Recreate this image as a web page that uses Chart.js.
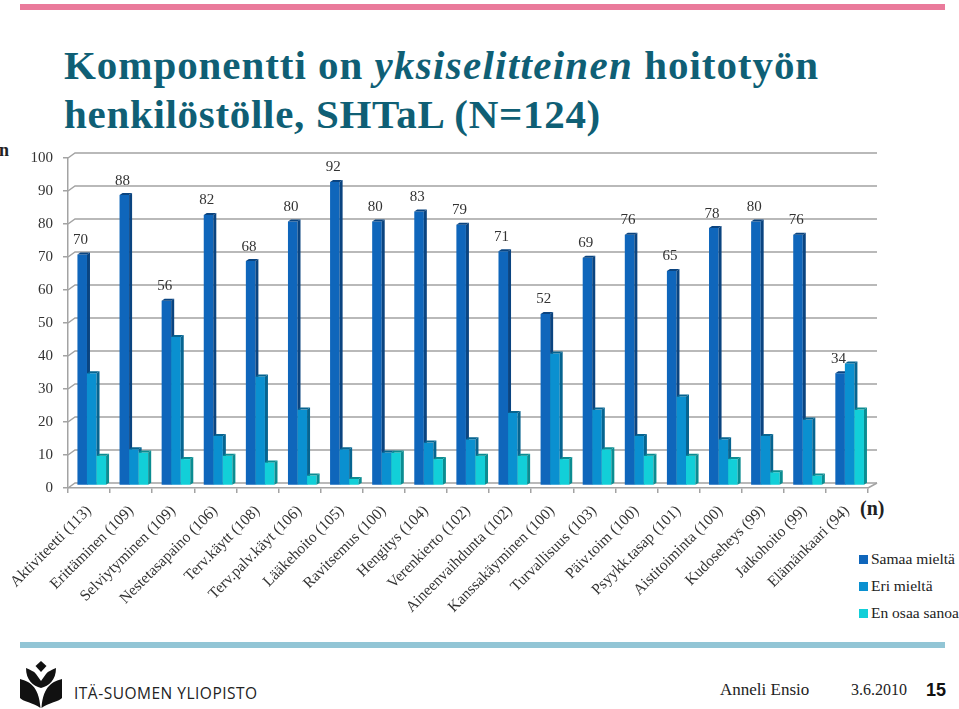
<!DOCTYPE html>
<html>
<head>
<meta charset="utf-8">
<script src="https://cdn.jsdelivr.net/npm/chart.js@4"></script>
<style>
  html, body { margin: 0; padding: 0; background: #fff; }
  body { width: 959px; height: 709px; position: relative; overflow: hidden; font-family: "Liberation Serif", serif; color: #222; }
  canvas { position: absolute; left: 0; top: 0; }
  .abs { position: absolute; white-space: nowrap; }
  #topBar { left: 20px; top: 4px; width: 925px; height: 6px; background: #ea7a9b; }
  #bottomBar { left: 20px; top: 642px; width: 925px; height: 6px; background: #92c5d5; }
  #title { left: 64px; top: 41px; font-size: 41px; line-height: 49px; font-weight: bold; letter-spacing: 0.95px; color: #0f5f75; }
  #title i { letter-spacing: 1.3px; }
  #title span { letter-spacing: 0.7px; }
  .key { width: 9px; height: 9px; }
  .keyText { font-size: 15.5px; }
</style>
</head>
<body>
<div class="abs" id="topBar"></div>
<div class="abs" id="bottomBar"></div>
<div class="abs" id="title">Komponentti on <i>yksiselitteinen</i> hoitotyön<br><span>henkilöstölle, SHTaL (N=124)</span></div>
<div class="abs" style="left:-1px;top:140px;font-size:18px;font-weight:bold">n</div>
<div class="abs" style="left:860px;top:497px;font-size:20px;font-weight:bold">(n)</div>

<div class="abs key" style="left:859px;top:555px;background:#0f66bb"></div>
<div class="abs keyText" style="left:871px;top:550px">Samaa mieltä</div>
<div class="abs key" style="left:859px;top:582px;background:#0a90d0"></div>
<div class="abs keyText" style="left:871px;top:577px">Eri mieltä</div>
<div class="abs key" style="left:859px;top:609px;background:#12cfd8"></div>
<div class="abs keyText" style="left:871px;top:604px">En osaa sanoa</div>

<svg class="abs" style="left:20px;top:660px" width="44" height="49" viewBox="0 0 44 49">
  <path d="M21 1 L26.5 6 L21 12 L15.5 6 Z" fill="#111"/>
  <path d="M6 8 C10 10 14 11 16 14 L21 21 L21 28 C13 26 6 20 6 8 Z" fill="#111"/>
  <path d="M36 8 C32 10 28 11 26 14 L21 21 L21 28 C29 26 36 20 36 8 Z" fill="#111"/>
  <path d="M0 19 C8 21 19 25 20.5 48 C14 43 2 41 0 38 Z" fill="#111"/>
  <path d="M42 19 C34 21 23 25 21.5 48 C28 43 40 41 42 38 Z" fill="#111"/>
</svg>
<div class="abs" style="left:74px;top:682px;font-family:'Open Sans',sans-serif;font-size:15.5px;letter-spacing:.5px;color:#222">ITÄ-SUOMEN YLIOPISTO</div>
<div class="abs" style="left:720px;top:680px;font-size:17px">Anneli Ensio</div>
<div class="abs" style="left:851px;top:680.5px;font-size:16px">3.6.2010</div>
<div class="abs" style="left:926px;top:680px;font-family:'Liberation Sans',sans-serif;font-weight:bold;font-size:18px;color:#111">15</div>

<canvas id="chart" width="959" height="709"></canvas>

<script>
// Data
const categories = [
  'Aktiviteetti (113)', 'Erittäminen (109)', 'Selviytyminen (109)', 'Nestetasapaino (106)',
  'Terv.käytt (108)', 'Terv.palv.käyt (106)', 'Lääkehoito (105)', 'Ravitsemus (100)',
  'Hengitys (104)', 'Verenkierto (102)', 'Aineenvaihdunta (102)', 'Kanssakäyminen (100)',
  'Turvallisuus (103)', 'Päiv.toim (100)', 'Psyykk.tasap (101)', 'Aistitoiminta (100)',
  'Kudoseheys (99)', 'Jatkohoito (99)', 'Elämänkaari (94)'
];
const samaaMielta = [70, 88, 56, 82, 68, 80, 92, 80, 83, 79, 71, 52, 69, 76, 65, 78, 80, 76, 34];
const eriMielta = [34, 11, 45, 15, 33, 23, 11, 10, 13, 14, 22, 40, 23, 15, 27, 14, 15, 20, 37];
const enOsaaSanoa = [9, 10, 8, 9, 7, 3, 2, 10, 8, 9, 9, 8, 11, 9, 9, 8, 4, 3, 23];

const gridColor = '#a3a3a3';
const labelFont = '"Liberation Serif", serif';

// Back wall of the 3D box, drawn behind the bars
const wallPlugin = {
  id: 'wall',
  beforeDatasetsDraw(chart) {
    const { ctx, chartArea, scales } = chart;
    ctx.save();
    ctx.strokeStyle = gridColor;
    ctx.lineWidth = 1.5;
    scales.y.ticks.forEach(t => {
      const y = scales.y.getPixelForValue(t.value);
      ctx.beginPath();
      ctx.moveTo(chartArea.left, y);
      ctx.lineTo(chartArea.left + 7, y - 5);
      ctx.lineTo(chartArea.right + 9, y - 5);
      ctx.stroke();
    });
    ctx.beginPath();
    ctx.moveTo(chartArea.right, chartArea.bottom);
    ctx.lineTo(chartArea.right + 9, chartArea.bottom - 5);
    ctx.stroke();
    ctx.restore();
  }
};

// Draws first series first so the next one covers its side,
// moves the bars onto the floor and adds side and top faces
const bar3dPlugin = {
  id: 'bar3d',
  beforeDatasetsDraw(chart) {
    const ctx = chart.ctx;
    const depth = 3;
    chart.data.datasets.forEach((ds, i) => {
      const meta = chart.getDatasetMeta(i);
      ctx.save();
      ctx.translate(2.7, -2.5);
      meta.controller.draw();
      ctx.fillStyle = ds.sideColor;
      meta.data.forEach(b => {
        const left = b.x - b.width / 2;
        const right = b.x + b.width / 2;
        ctx.beginPath();
        ctx.moveTo(right, b.y);
        ctx.lineTo(right + depth, b.y - 2);
        ctx.lineTo(right + depth, b.base - 2);
        ctx.lineTo(right, b.base);
        ctx.closePath();
        ctx.fill();
        ctx.beginPath();
        ctx.moveTo(left, b.y);
        ctx.lineTo(left + depth, b.y - 2);
        ctx.lineTo(right + depth, b.y - 2);
        ctx.lineTo(right, b.y);
        ctx.closePath();
        ctx.fill();
      });
      ctx.restore();
    });

    // value labels of the first series only
    ctx.save();
    ctx.font = '15px ' + labelFont;
    ctx.fillStyle = '#333';
    ctx.textAlign = 'center';
    ctx.textBaseline = 'middle';
    chart.getDatasetMeta(0).data.forEach((b, i) => {
      ctx.fillText(samaaMielta[i], b.x + 1, b.y - 17);
    });
    ctx.restore();
    return false;
  }
};

const chart = new Chart(document.getElementById('chart').getContext('2d'), {
  type: 'bar',
  data: {
    labels: categories,
    datasets: [
      { label: 'Samaa mieltä', data: samaaMielta, backgroundColor: '#0f66bb', sideColor: '#0a4480' },
      { label: 'Eri mieltä', data: eriMielta, backgroundColor: '#0a90d0', sideColor: '#066490' },
      { label: 'En osaa sanoa', data: enOsaaSanoa, backgroundColor: '#12cfd8', sideColor: '#0b8c91' }
    ]
  },
  options: {
    responsive: false,
    animation: false,
    layout: { padding: { left: 0, right: 91, top: 158, bottom: 0 } },
    datasets: { bar: { categoryPercentage: 0.68, barPercentage: 1 } },
    plugins: { legend: { display: false }, tooltip: { enabled: false } },
    scales: {
      x: {
        afterFit(scale) { scale.height = 221; },
        grid: { display: true, drawOnChartArea: false, color: gridColor, tickLength: 5, lineWidth: 1.5 },
        border: { color: gridColor, width: 1.5 },
        ticks: { autoSkip: false, minRotation: 45, maxRotation: 45, padding: 9, color: '#333', font: { family: labelFont, size: 15.5 } }
      },
      y: {
        min: 0,
        max: 100,
        afterFit(scale) { scale.width = 68; },
        grid: { display: true, drawOnChartArea: false, color: gridColor, tickLength: 5, lineWidth: 1.5 },
        border: { color: gridColor, width: 1.5 },
        ticks: { stepSize: 10, padding: 10, color: '#333', font: { family: labelFont, size: 15 } }
      }
    }
  },
  plugins: [wallPlugin, bar3dPlugin]
});
</script>
</body>
</html>
